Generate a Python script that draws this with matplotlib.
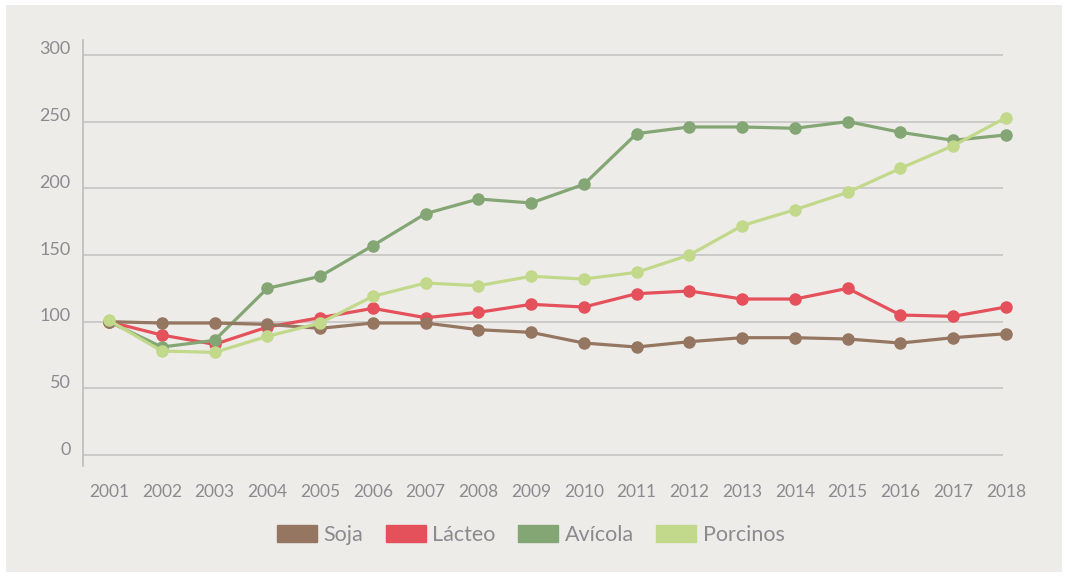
import matplotlib
matplotlib.use("Agg")
import matplotlib.pyplot as plt
from matplotlib.patches import Patch, Rectangle
from matplotlib.transforms import ScaledTranslation

years = list(range(2001, 2019))
soja = [100, 99, 99, 98, 95, 99, 99, 94, 92, 84, 81, 85, 88, 88, 87, 84, 88, 91]
lacteo = [100, 90, 83, 96, 103, 110, 103, 107, 113, 111, 121, 123, 117, 117, 125, 105, 104, 111]
avicola = [100, 81, 86, 125, 134, 157, 181, 192, 189, 203, 241, 246, 246, 245, 250, 242, 236, 240]
porcinos = [101, 78, 77, 89, 99, 119, 129, 127, 134, 132, 137, 150, 172, 184, 197, 215, 232, 253]
yticks = [0, 50, 100, 150, 200, 250, 300]

c_soja = '#957661'
c_lacteo = '#e5515b'
c_avicola = '#83a674'
c_porcinos = '#c2d98b'
bg = '#eeece9'
txt = '#8b8b8f'

plt.rcParams['font.family'] = ['Lato', 'DejaVu Sans']

fig = plt.figure(figsize=(10.65, 5.76), dpi=100)
fig.patches.append(Rectangle((6/1065, 4/576), 1056/1065, 567/576,
                             transform=fig.transFigure, facecolor=bg,
                             edgecolor='none', zorder=-10))

ax = fig.add_axes([83/1065, 110/576, (1020-83)/1065, 426/576])
ax.set_facecolor('none')
ax.set_xlim(2000.507, 2018.265)
ax.set_ylim(-8.2, 311.2)

ax.hlines(yticks, 2000.507, 2017.94, color='#c9c8c6', lw=1.3, zorder=1)

kw = dict(marker='o', markersize=8, lw=2.3, clip_on=False)
ax.plot(years, lacteo, color=c_lacteo, zorder=3, **kw)
ax.plot(years, avicola, color=c_avicola, zorder=4, **kw)
ax.plot(years, soja, color=c_soja, zorder=5, **kw)
ax.plot(years, porcinos, color=c_porcinos, zorder=6, **kw)

for s in ['top', 'right', 'bottom']:
    ax.spines[s].set_visible(False)
ax.spines['left'].set_color('#bdbcba')
ax.spines['left'].set_linewidth(1.2)

ax.set_yticks(yticks)
ax.set_yticklabels([str(v) for v in yticks])
ax.set_xticks(years)
ax.set_xticklabels([str(y) for y in years])
ax.tick_params(axis='y', length=0, pad=9, labelsize=13, labelcolor=txt)
ax.tick_params(axis='x', length=0, pad=13, labelsize=12.5, labelcolor=txt)
for lab in ax.get_yticklabels():
    lab.set_transform(lab.get_transform() + ScaledTranslation(0, 5/72, fig.dpi_scale_trans))

handles = [Patch(color=c_soja, label='Soja'),
           Patch(color=c_lacteo, label='Lácteo'),
           Patch(color=c_avicola, label='Avícola'),
           Patch(color=c_porcinos, label='Porcinos')]
leg = fig.legend(handles=handles, loc='center', ncol=4, frameon=False,
                 bbox_to_anchor=(531/1065, 1 - 535/576), fontsize=15.5,
                 handlelength=1.85, handleheight=0.85, handletextpad=0.3,
                 columnspacing=1.05, labelcolor=txt)

fig.savefig('out.png', dpi=100, facecolor='white')
